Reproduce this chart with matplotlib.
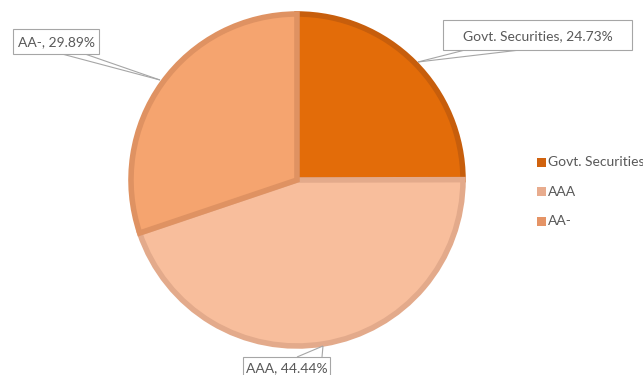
import matplotlib.pyplot as plt
from matplotlib.patches import Rectangle

plt.rcParams['font.family'] = ['Lato', 'DejaVu Sans']

labels = ['Govt. Securities', 'AAA', 'AA-']
shares = [24.73, 44.44, 29.89]
fills = ['#E36C09', '#F8BE9C', '#F5A46F']
edges = ['#C75E0C', '#E3AA8B', '#DF9262']
legend_colors = ['#D0620E', '#E8AC8E', '#E59466']

W, H = 643, 375
fig = plt.figure(figsize=(W / 100, H / 100), dpi=100)
ax = fig.add_axes([0, 0, 1, 1])

cx, cy, r = 297, H - 180, 166
wedges, _ = ax.pie(shares, colors=fills, startangle=90, counterclock=False,
                   center=(cx, cy), radius=r, frame=True,
                   wedgeprops=dict(linewidth=4))
for w, ec in zip(wedges, edges):
    w.set_edgecolor(ec)
ax.set_xlim(0, W)
ax.set_ylim(0, H)
ax.set_aspect('equal')
ax.axis('off')

text_color = '#595959'
line_color = '#A6A6A6'

# callout layout in pixels from the top: box (x0, x1, y0, y1), text centre y,
# callout base points on the box and the tip on the pie edge
callouts = {
    'Govt. Securities': ((443, 632, 20, 50), 36, [(465, 50), (520, 50)], (418, 62)),
    'AAA': ((243, 330, 357, 380), 368, [(297, 357), (322, 357)], (323, 346)),
    'AA-': ((13, 99, 29, 54), 42, [(62, 54), (85, 54)], (160, 80)),
}
for lab, val in zip(labels, shares):
    (x0, x1, y0, y1), ty, base, tip = callouts[lab]
    for bx, by in base:
        ax.plot([bx, tip[0]], [H - by, H - tip[1]], color=line_color, lw=0.8,
                zorder=3, solid_capstyle='butt')
    ax.add_patch(Rectangle((x0, H - y1), x1 - x0, y1 - y0, fc='white',
                           ec=line_color, lw=0.8, zorder=4))
    ax.text((x0 + x1) / 2, H - ty, f'{lab}, {val:.2f}%', ha='center',
            va='center', fontsize=10, color=text_color, zorder=5)

# legend
for i, (lab, c) in enumerate(zip(labels, legend_colors)):
    y = H - (162 + i * 29.5)
    ax.add_patch(Rectangle((537, y - 4.5), 9, 9, color=c, lw=0))
    ax.text(548, y, lab, ha='left', va='center', fontsize=10, color=text_color)

plt.savefig('out.png', dpi=100)
